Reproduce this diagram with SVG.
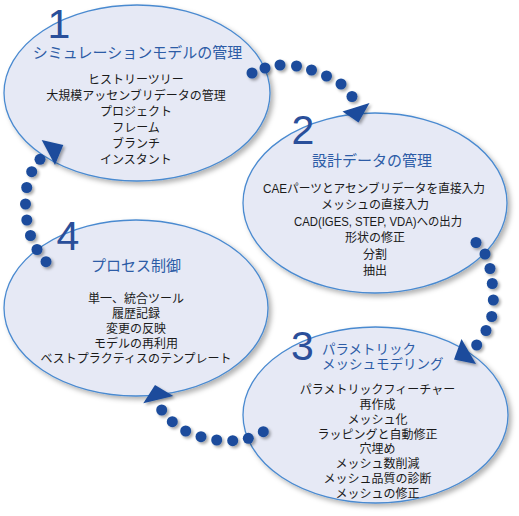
<svg xmlns="http://www.w3.org/2000/svg" width="519" height="516" viewBox="0 0 519 516">
<defs>
<filter id="sh" x="-20%" y="-20%" width="150%" height="150%">
<feDropShadow dx="3" dy="3" stdDeviation="2.5" flood-color="#000" flood-opacity="0.3"/>
</filter>
<filter id="dsh" x="-60%" y="-60%" width="250%" height="250%">
<feDropShadow dx="2" dy="2" stdDeviation="1.5" flood-color="#000" flood-opacity="0.35"/>
</filter>
<style>
.ell{fill:#e6e9f5;stroke:#4a8ad0;stroke-width:1.3;filter:url(#sh)}
.num{font-family:"Liberation Sans","Noto Sans",sans-serif;font-size:41px;fill:#2a4f9a;text-anchor:middle}
.ttl{font-family:"Liberation Sans","Noto Sans CJK JP",sans-serif;font-size:15px;fill:#2d5ca6;text-anchor:middle}
.ttl3{font-family:"Liberation Sans","Noto Sans CJK JP",sans-serif;font-size:13.5px;fill:#2d5ca6}
.body{font-family:"Liberation Sans","Noto Sans CJK JP",sans-serif;font-size:12px;fill:#1a1a1a;text-anchor:middle}
.dot{fill:#1a4c9c}
.arr{fill:#1a4c9c}
</style>
</defs>

<g id="node1">
<ellipse class="ell" cx="137" cy="93" rx="133" ry="88"/>
<text class="num" x="59" y="38">1</text>
<text class="ttl" x="137.5" y="57.5">シミュレーションモデルの管理</text>
<text class="body" x="136" y="84">ヒストリーツリー</text>
<text class="body" x="136" y="100">大規模アッセンブリデータの管理</text>
<text class="body" x="136" y="116">プロジェクト</text>
<text class="body" x="136" y="132">フレーム</text>
<text class="body" x="136" y="148">ブランチ</text>
<text class="body" x="136" y="164">インスタント</text>
</g>

<g id="node2">
<ellipse class="ell" cx="375" cy="203" rx="132" ry="90"/>
<text class="num" x="303" y="144">2</text>
<text class="ttl" x="372" y="165.5">設計データの管理</text>
<text class="body" x="374" y="193" textLength="222" lengthAdjust="spacingAndGlyphs">CAEパーツとアセンブリデータを直接入力</text>
<text class="body" x="375" y="209.4">メッシュの直接入力</text>
<text class="body" x="378" y="225.8" textLength="168" lengthAdjust="spacingAndGlyphs">CAD(IGES, STEP, VDA)への出力</text>
<text class="body" x="375" y="242.2">形状の修正</text>
<text class="body" x="375" y="258.6">分割</text>
<text class="body" x="375" y="275">抽出</text>
</g>

<g id="node3">
<ellipse class="ell" cx="375.5" cy="415" rx="132.5" ry="88"/>
<text class="num" x="302.5" y="360">3</text>
<text class="ttl3" x="322" y="353.5">パラメトリック</text>
<text class="ttl3" x="322" y="368.5">メッシュモデリング</text>
<text class="body" x="377.5" y="394">パラメトリックフィーチャー</text>
<text class="body" x="377.5" y="408.9">再作成</text>
<text class="body" x="377.5" y="423.7">メッシュ化</text>
<text class="body" x="377.5" y="438.6">ラッピングと自動修正</text>
<text class="body" x="377.5" y="453.4">穴埋め</text>
<text class="body" x="377.5" y="468.3">メッシュ数削減</text>
<text class="body" x="377.5" y="483.1">メッシュ品質の診断</text>
<text class="body" x="377.5" y="498">メッシュの修正</text>
</g>

<g id="node4">
<ellipse class="ell" cx="136" cy="308" rx="132" ry="88"/>
<text class="num" x="68" y="250">4</text>
<text class="ttl" x="136" y="270.5">プロセス制御</text>
<text class="body" x="136" y="303">単一、統合ツール</text>
<text class="body" x="136" y="318">履歴記録</text>
<text class="body" x="136" y="333">変更の反映</text>
<text class="body" x="136" y="348">モデルの再利用</text>
<text class="body" x="136" y="363">ベストプラクティスのテンプレート</text>
</g>

<g id="connectors" filter="url(#dsh)">
<g id="c12">
<circle class="dot" cx="252" cy="73" r="5.5"/>
<circle class="dot" cx="265" cy="68" r="5.5"/>
<circle class="dot" cx="280" cy="65" r="5.5"/>
<circle class="dot" cx="296.5" cy="66" r="5.5"/>
<circle class="dot" cx="311.5" cy="70" r="5.5"/>
<circle class="dot" cx="326.5" cy="76" r="5.5"/>
<circle class="dot" cx="341" cy="84" r="5.5"/>
<circle class="dot" cx="352" cy="96.5" r="5.5"/>
<polygon class="arr" points="342.5,111.5 369.5,103 358.5,122.5"/>
</g>
<g id="c23">
<circle class="dot" cx="476" cy="242.5" r="5.5"/>
<circle class="dot" cx="485" cy="254" r="5.5"/>
<circle class="dot" cx="490" cy="268.5" r="5.5"/>
<circle class="dot" cx="492.3" cy="283.5" r="5.5"/>
<circle class="dot" cx="493.3" cy="300" r="5.5"/>
<circle class="dot" cx="491.7" cy="316.5" r="5.5"/>
<circle class="dot" cx="486" cy="330.5" r="5.5"/>
<circle class="dot" cx="476.7" cy="345" r="5.5"/>
<polygon class="arr" points="461.5,339 454,359.5 476,364"/>
</g>
<g id="c34">
<circle class="dot" cx="263.3" cy="431.7" r="5.5"/>
<circle class="dot" cx="248.3" cy="438.3" r="5.5"/>
<circle class="dot" cx="232.7" cy="440.7" r="5.5"/>
<circle class="dot" cx="216.7" cy="440" r="5.5"/>
<circle class="dot" cx="201" cy="436.7" r="5.5"/>
<circle class="dot" cx="185.7" cy="431" r="5.5"/>
<circle class="dot" cx="172.3" cy="421.7" r="5.5"/>
<circle class="dot" cx="161.7" cy="410" r="5.5"/>
<polygon class="arr" points="155,385 143.3,403.3 173.3,396"/>
</g>
<g id="c41">
<circle class="dot" cx="46" cy="261.7" r="5.5"/>
<circle class="dot" cx="37" cy="249.5" r="5.5"/>
<circle class="dot" cx="30.5" cy="235.5" r="5.5"/>
<circle class="dot" cx="26.8" cy="220" r="5.5"/>
<circle class="dot" cx="25.5" cy="204" r="5.5"/>
<circle class="dot" cx="26.7" cy="187.5" r="5.5"/>
<circle class="dot" cx="31.7" cy="171.7" r="5.5"/>
<circle class="dot" cx="40" cy="159.3" r="5.5"/>
<polygon class="arr" points="41.7,140 63.3,145 55,165"/>
</g>
</g>
</svg>
